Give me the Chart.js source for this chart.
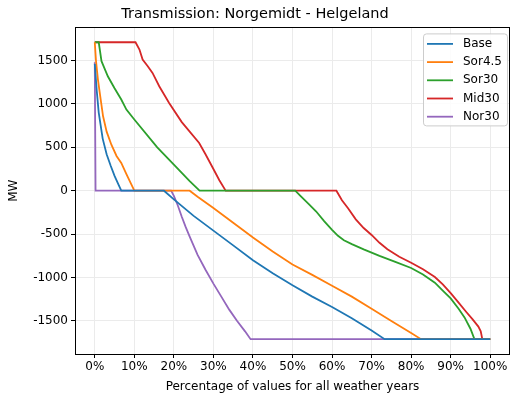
<!DOCTYPE html>
<html>
<head>
<meta charset="utf-8">
<script src="https://cdn.jsdelivr.net/npm/chart.js@4.4.1/dist/chart.umd.min.js"></script>
<style>
  html, body { margin: 0; padding: 0; background: #fff; }
  #wrap { width: 511px; height: 394px; }
</style>
</head>
<body>
<div id="wrap"><canvas id="grafica" width="511" height="394"></canvas></div>
<script>
// Datos (x = % de valores, y = MW)
const baseX = [0, 0.5, 1, 2, 3, 4, 5, 6, 6.7, 17.5, 20, 25, 30, 35, 40, 45, 50, 55, 60, 65, 70, 73.3, 100];
const baseY = [1460, 1150, 900, 600, 420, 290, 170, 70, 0, 0, -100, -290, -460, -630, -800, -950, -1090, -1220, -1340, -1470, -1610, -1710, -1710];

const sor45X = [0, 0.3, 0.8, 1.5, 2.1, 3, 4.2, 5.5, 6.7, 8, 10, 24, 26, 30, 35, 40, 45, 50, 55, 60, 65, 70, 75, 80, 82.5, 100];
const sor45Y = [1710, 1500, 1280, 1050, 857, 680, 530, 400, 320, 190, 0, 0, -70, -200, -370, -540, -700, -850, -970, -1095, -1220, -1360, -1500, -1640, -1710, -1710];

const sor30X = [0, 1.0, 1.7, 3.3, 5, 6.7, 8, 10, 15.8, 20, 24, 26.5, 50.7, 52, 54, 56, 58, 60, 61.5, 63, 65, 68, 72, 76, 80, 83, 86, 88, 90, 92, 93.5, 95, 96, 100];
const sor30Y = [1710, 1710, 1492, 1318, 1180, 1050, 934, 820, 500, 300, 110, 0, 0, -60, -150, -240, -350, -450, -520, -570, -615, -675, -750, -820, -890, -965, -1060, -1150, -1240, -1360, -1460, -1590, -1710, -1710];

const mid30X = [0, 10.3, 11.3, 12.1, 13.4, 14.6, 16.3, 18.8, 22, 26.4, 28, 30, 31.5, 33.1, 61.1, 62.5, 64, 66, 68, 70, 72, 74, 77, 80, 83, 86, 88, 90, 92, 94, 95.5, 97, 97.6, 98, 100];
const mid30Y = [1710, 1710, 1626, 1511, 1434, 1357, 1203, 1011, 790, 550, 420, 250, 120, 0, 0, -110, -200, -330, -430, -510, -600, -675, -760, -830, -905, -995, -1080, -1180, -1290, -1400, -1480, -1565, -1620, -1710, -1710];

const nor30X = [0, 0.2, 19.3, 20, 21, 22, 23, 24, 26, 28, 30, 32, 34, 36, 38, 39.4, 100];
const nor30Y = [1480, 0, 0, -60, -170, -300, -420, -530, -740, -910, -1070, -1220, -1370, -1500, -1620, -1710, -1710];

const nombres = ['Base', 'Sor4.5', 'Sor30', 'Mid30', 'Nor30'];
const colores = ['#1f77b4', '#ff7f0e', '#2ca02c', '#d62728', '#9467bd'];
const seriesX = [baseX, sor45X, sor30X, mid30X, nor30X];
const seriesY = [baseY, sor45Y, sor30Y, mid30Y, nor30Y];

const xTicks = [0, 10, 20, 30, 40, 50, 60, 70, 80, 90, 100];
const yTicks = [-1500, -1000, -500, 0, 500, 1000, 1500];

const fuente = "'DejaVu Sans', sans-serif";

// Convertir pares de arrays en puntos {x, y}
function puntos(xs, ys) {
    return xs.map((x, i) => ({ x: x, y: ys[i] }));
}

const datasets = nombres.map((nombre, i) => ({
    label: nombre,
    data: puntos(seriesX[i], seriesY[i]),
    borderColor: colores[i],
    backgroundColor: colores[i],
    borderWidth: 1.8,
    pointRadius: 0,
    tension: 0,
    fill: false
}));

// Marco del área del gráfico (los cuatro bordes, como matplotlib)
const marco = {
    id: 'marco',
    afterDatasetsDraw(chart) {
        const { ctx, chartArea: a } = chart;
        ctx.save();
        ctx.strokeStyle = '#000';
        ctx.lineWidth = 1;
        ctx.strokeRect(Math.round(a.left) + 0.5, Math.round(a.top) + 0.5,
            Math.round(a.right - a.left) - 1, Math.round(a.bottom - a.top));
        ctx.restore();
    }
};

// Leyenda dentro del área, arriba a la derecha
const leyenda = {
    id: 'leyenda',
    afterDraw(chart) {
        const { ctx, chartArea: a } = chart;
        const w = 84, h = 92;
        const x0 = a.right - 87, y0 = a.top + 6;
        ctx.save();
        ctx.fillStyle = 'rgba(255,255,255,0.85)';
        ctx.strokeStyle = '#cccccc';
        ctx.lineWidth = 1;
        ctx.beginPath();
        ctx.roundRect(x0 + 0.5, y0 + 0.5, w, h, 3);
        ctx.fill();
        ctx.stroke();
        ctx.font = '12px ' + fuente;
        ctx.textBaseline = 'middle';
        chart.data.datasets.forEach((ds, i) => {
            const y = y0 + 10.5 + i * 18.2;
            ctx.strokeStyle = ds.borderColor;
            ctx.lineWidth = 1.8;
            ctx.beginPath();
            ctx.moveTo(x0 + 4, y);
            ctx.lineTo(x0 + 30, y);
            ctx.stroke();
            ctx.fillStyle = '#000';
            ctx.fillText(ds.label, x0 + 40, y);
        });
        ctx.restore();
    }
};

new Chart(document.getElementById('grafica').getContext('2d'), {
    type: 'line',
    data: { datasets: datasets },
    options: {
        responsive: false,
        animation: false,
        layout: { padding: { left: 0, right: 1, top: 0, bottom: 0 } },
        plugins: {
            legend: { display: false },
            tooltip: { enabled: false },
            title: {
                display: true,
                text: 'Transmission: Norgemidt - Helgeland',
                color: '#000',
                font: { family: fuente, size: 14.5, weight: 'normal' },
                padding: { top: 6, bottom: 4 }
            }
        },
        scales: {
            x: {
                type: 'linear',
                min: -5,
                max: 105,
                afterBuildTicks: (scale) => { scale.ticks = xTicks.map(v => ({ value: v })); },
                afterFit: (scale) => { scale.height = 40; },
                ticks: {
                    color: '#000',
                    font: { family: fuente, size: 12 },
                    padding: 2,
                    maxRotation: 0,
                    callback: (v) => v + '%'
                },
                grid: { color: '#ebebeb', tickColor: '#000', tickLength: 4, lineWidth: 1 },
                border: { display: false },
                title: {
                    display: true,
                    text: 'Percentage of values for all weather years',
                    color: '#000',
                    font: { family: fuente, size: 12 },
                    padding: { top: 0, bottom: 0 }
                }
            },
            y: {
                type: 'linear',
                min: -1881,
                max: 1881,
                afterBuildTicks: (scale) => { scale.ticks = yTicks.map(v => ({ value: v })); },
                afterFit: (scale) => { scale.width = 75; },
                ticks: {
                    color: '#000',
                    font: { family: fuente, size: 12 },
                    padding: 3,
                    callback: (v) => String(v)
                },
                grid: { color: '#ebebeb', tickColor: '#000', tickLength: 4, lineWidth: 1 },
                border: { display: false },
                title: {
                    display: true,
                    text: 'MW',
                    color: '#000',
                    font: { family: fuente, size: 12 },
                    padding: { top: 7, bottom: 0 }
                }
            }
        }
    },
    plugins: [marco, leyenda]
});
</script>
</body>
</html>
